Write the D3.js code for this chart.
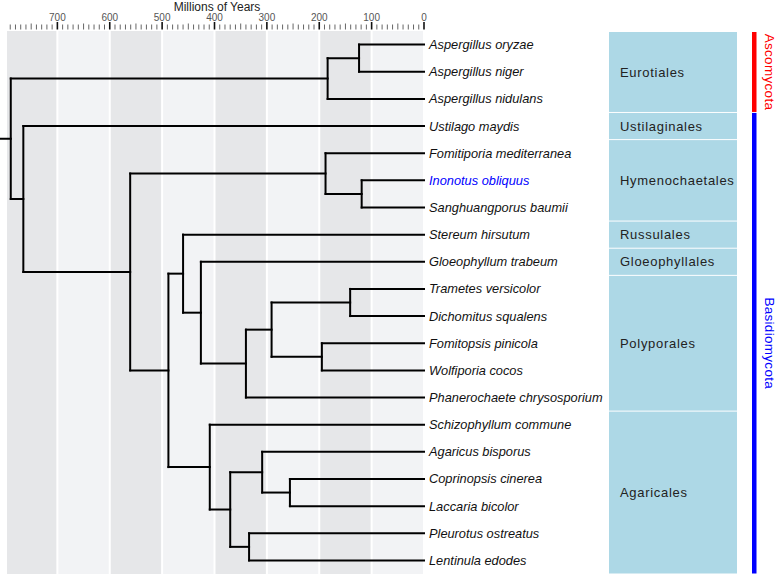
<!DOCTYPE html>
<html><head><meta charset="utf-8">
<script src="https://cdn.jsdelivr.net/npm/d3@7"></script>
<style>body{margin:0;background:#fff}svg{display:block}</style>
</head><body>
<svg id="c" width="777" height="575"></svg>
<script>
// ---- data ----
const taxa = ["Aspergillus oryzae","Aspergillus niger","Aspergillus nidulans","Ustilago maydis",
  "Fomitiporia mediterranea","Inonotus obliquus","Sanghuangporus baumii","Stereum hirsutum",
  "Gloeophyllum trabeum","Trametes versicolor","Dichomitus squalens","Fomitopsis pinicola",
  "Wolfiporia cocos","Phanerochaete chrysosporium","Schizophyllum commune","Agaricus bisporus",
  "Coprinopsis cinerea","Laccaria bicolor","Pleurotus ostreatus","Lentinula edodes"];
const taxaParents = ["aspON","aspON","asco","basid","hymeno","inoSang","inoSang","stereumClade",
  "gloeoClade","tramDich","tramDich","fomWolf","fomWolf","polyporales","agaricales","ag3",
  "coprLacc","coprLacc","pleurLent","pleurLent"];
const highlighted = ["Inonotus obliquus"];
const nodeIds     = ["root","asco","aspON","basid","agaricomycetes","hymeno","inoSang","rest","stereumClade","gloeoClade","polyporales","corePoly","tramDich","fomWolf","agaricales","ag2","ag3","coprLacc","pleurLent"];
const nodeParents = [null,"root","asco","root","basid","agaricomycetes","hymeno","agaricomycetes","rest","stereumClade","gloeoClade","polyporales","corePoly","corePoly","rest","agaricales","ag2","ag3","ag2"];
const nodeAges    = [789,184,124,765,561,188,119,488,460,426,340,291,141,195,409,370,309,256,334];
const rootStubAge = 810;
const orders = ["Eurotiales","Ustilaginales","Hymenochaetales","Russulales","Gloeophyllales","Polyporales","Agaricales"];
const orderStart = [0,3,4,7,8,9,14];
const orderEnd   = [2,3,6,7,8,13,19];
const phyla = ["Ascomycota","Basidiomycota"];
const phylaStart = [0,3];
const phylaEnd = [2,19];
const phylaColors = ["#ff0000","#0000ff"];
const axisTitle = "Millions of Years";
const majorTicks = [700,600,500,400,300,200,100,0];

// ---- layout ----
const svg = d3.select("#c");
const font = "'Liberation Sans', Arial, Helvetica, sans-serif";
const x = d3.scaleLinear().domain([800, 0]).range([5, 424]);
const y = d3.scaleBand().domain(d3.range(taxa.length)).range([31, 574]);
const yc = i => y(i) + y.bandwidth()/2;
const plotLeft = 7, plotRight = 423;

// background bands
const bands = d3.range(0, 800, 100);
svg.append("g").selectAll("rect").data(bands).join("rect")
  .attr("x", d => Math.max(plotLeft, x(d+100) + 1))
  .attr("width", d => Math.min(plotRight, x(d) - 1) - Math.max(plotLeft, x(d+100) + 1))
  .attr("y", 31).attr("height", 543)
  .attr("fill", d => (d/100) % 2 === 1 ? "#e6e7e9" : "#f2f3f5");

// axis ticks
const minor = d3.range(0, 791, 10);
const ax = svg.append("g");
ax.selectAll("line.t").data(minor).join("line")
  .attr("x1", d => x(d)).attr("x2", d => x(d))
  .attr("y1", d => d % 100 === 0 ? 22 : (d % 50 === 0 ? 23.5 : 24.5)).attr("y2", 29.5)
  .attr("stroke", d => d % 100 === 0 ? "#111" : "#666")
  .attr("stroke-width", d => d % 100 === 0 ? 1.6 : 1);
ax.selectAll("text").data(majorTicks).join("text")
  .attr("x", d => x(d)).attr("y", 21).attr("text-anchor", "middle")
  .attr("font-family", font).attr("font-size", 10).attr("fill", "#555")
  .text(d => d);
svg.append("text").attr("x", 217).attr("y", 10.5).attr("text-anchor", "middle")
  .attr("font-family", font).attr("font-size", 12).attr("fill", "#222").text(axisTitle);

// ---- tree ----
const rows = nodeIds.map((id, i) => ({id, parent: nodeParents[i], age: nodeAges[i]}))
  .concat(taxa.map((t, i) => ({id: t, parent: taxaParents[i], age: 0, leaf: i})));
const root = d3.stratify().id(d => d.id).parentId(d => d.parent)(rows);
root.eachAfter(n => {
  n.px = x(n.data.age);
  if (n.children) {
    n.children.sort((a, b) => a.minLeaf - b.minLeaf);
    n.minLeaf = d3.min(n.children, c => c.minLeaf);
    n.py = (n.children[0].py + n.children[n.children.length-1].py) / 2;
  } else {
    n.minLeaf = n.data.leaf;
    n.py = yc(n.data.leaf);
  }
});
const tg = svg.append("g").attr("fill", "none").attr("stroke", "#000").attr("stroke-width", 2).attr("stroke-linecap", "square");
tg.append("line").attr("x1", x(rootStubAge)).attr("x2", root.px).attr("y1", root.py).attr("y2", root.py);
root.descendants().forEach(n => {
  if (n.parent) tg.append("line").attr("x1", n.parent.px).attr("x2", n.px).attr("y1", n.py).attr("y2", n.py);
  if (n.children) {
    const ys = n.children.map(c => c.py);
    tg.append("line").attr("x1", n.px).attr("x2", n.px).attr("y1", d3.min(ys)).attr("y2", d3.max(ys));
  }
});

// leaf labels
svg.append("g").selectAll("text").data(taxa).join("text")
  .attr("x", x(0) + 5).attr("y", (d, i) => yc(i)).attr("dy", "0.35em")
  .attr("font-family", font).attr("font-size", 12.8).attr("font-style", "italic")
  .attr("fill", d => highlighted.includes(d) ? "#0000ff" : "#111")
  .text(d => d);

// order boxes
const og = svg.append("g");
orders.forEach((o, i) => {
  const y0 = y(orderStart[i]) + (i === 0 ? 1 : 0.5);
  const y1 = y(orderEnd[i]) + y.bandwidth() - 0.5;
  og.append("rect").attr("x", 609).attr("width", 128).attr("y", y0).attr("height", y1 - y0)
    .attr("fill", "#add8e6");
  og.append("text").attr("x", 620).attr("y", (y0 + y1)/2).attr("dy", "0.35em")
    .attr("font-family", font).attr("font-size", 13).attr("letter-spacing", 0.7).attr("fill", "#222").text(o);
});

// phyla bars
phyla.forEach((p, i) => {
  const y0 = y(phylaStart[i]) + (i === 0 ? 1 : 0.5);
  const y1 = y(phylaEnd[i]) + y.bandwidth() - 0.5;
  svg.append("rect").attr("x", 752).attr("width", 4.5).attr("y", y0).attr("height", y1 - y0).attr("fill", phylaColors[i]);
  svg.append("text").attr("transform", `translate(765,${(y0+y1)/2}) rotate(90)`)
    .attr("text-anchor", "middle").attr("font-family", font).attr("font-size", 13.5).attr("letter-spacing", 0.3)
    .attr("fill", phylaColors[i]).text(p);
});
</script>
</body></html>
